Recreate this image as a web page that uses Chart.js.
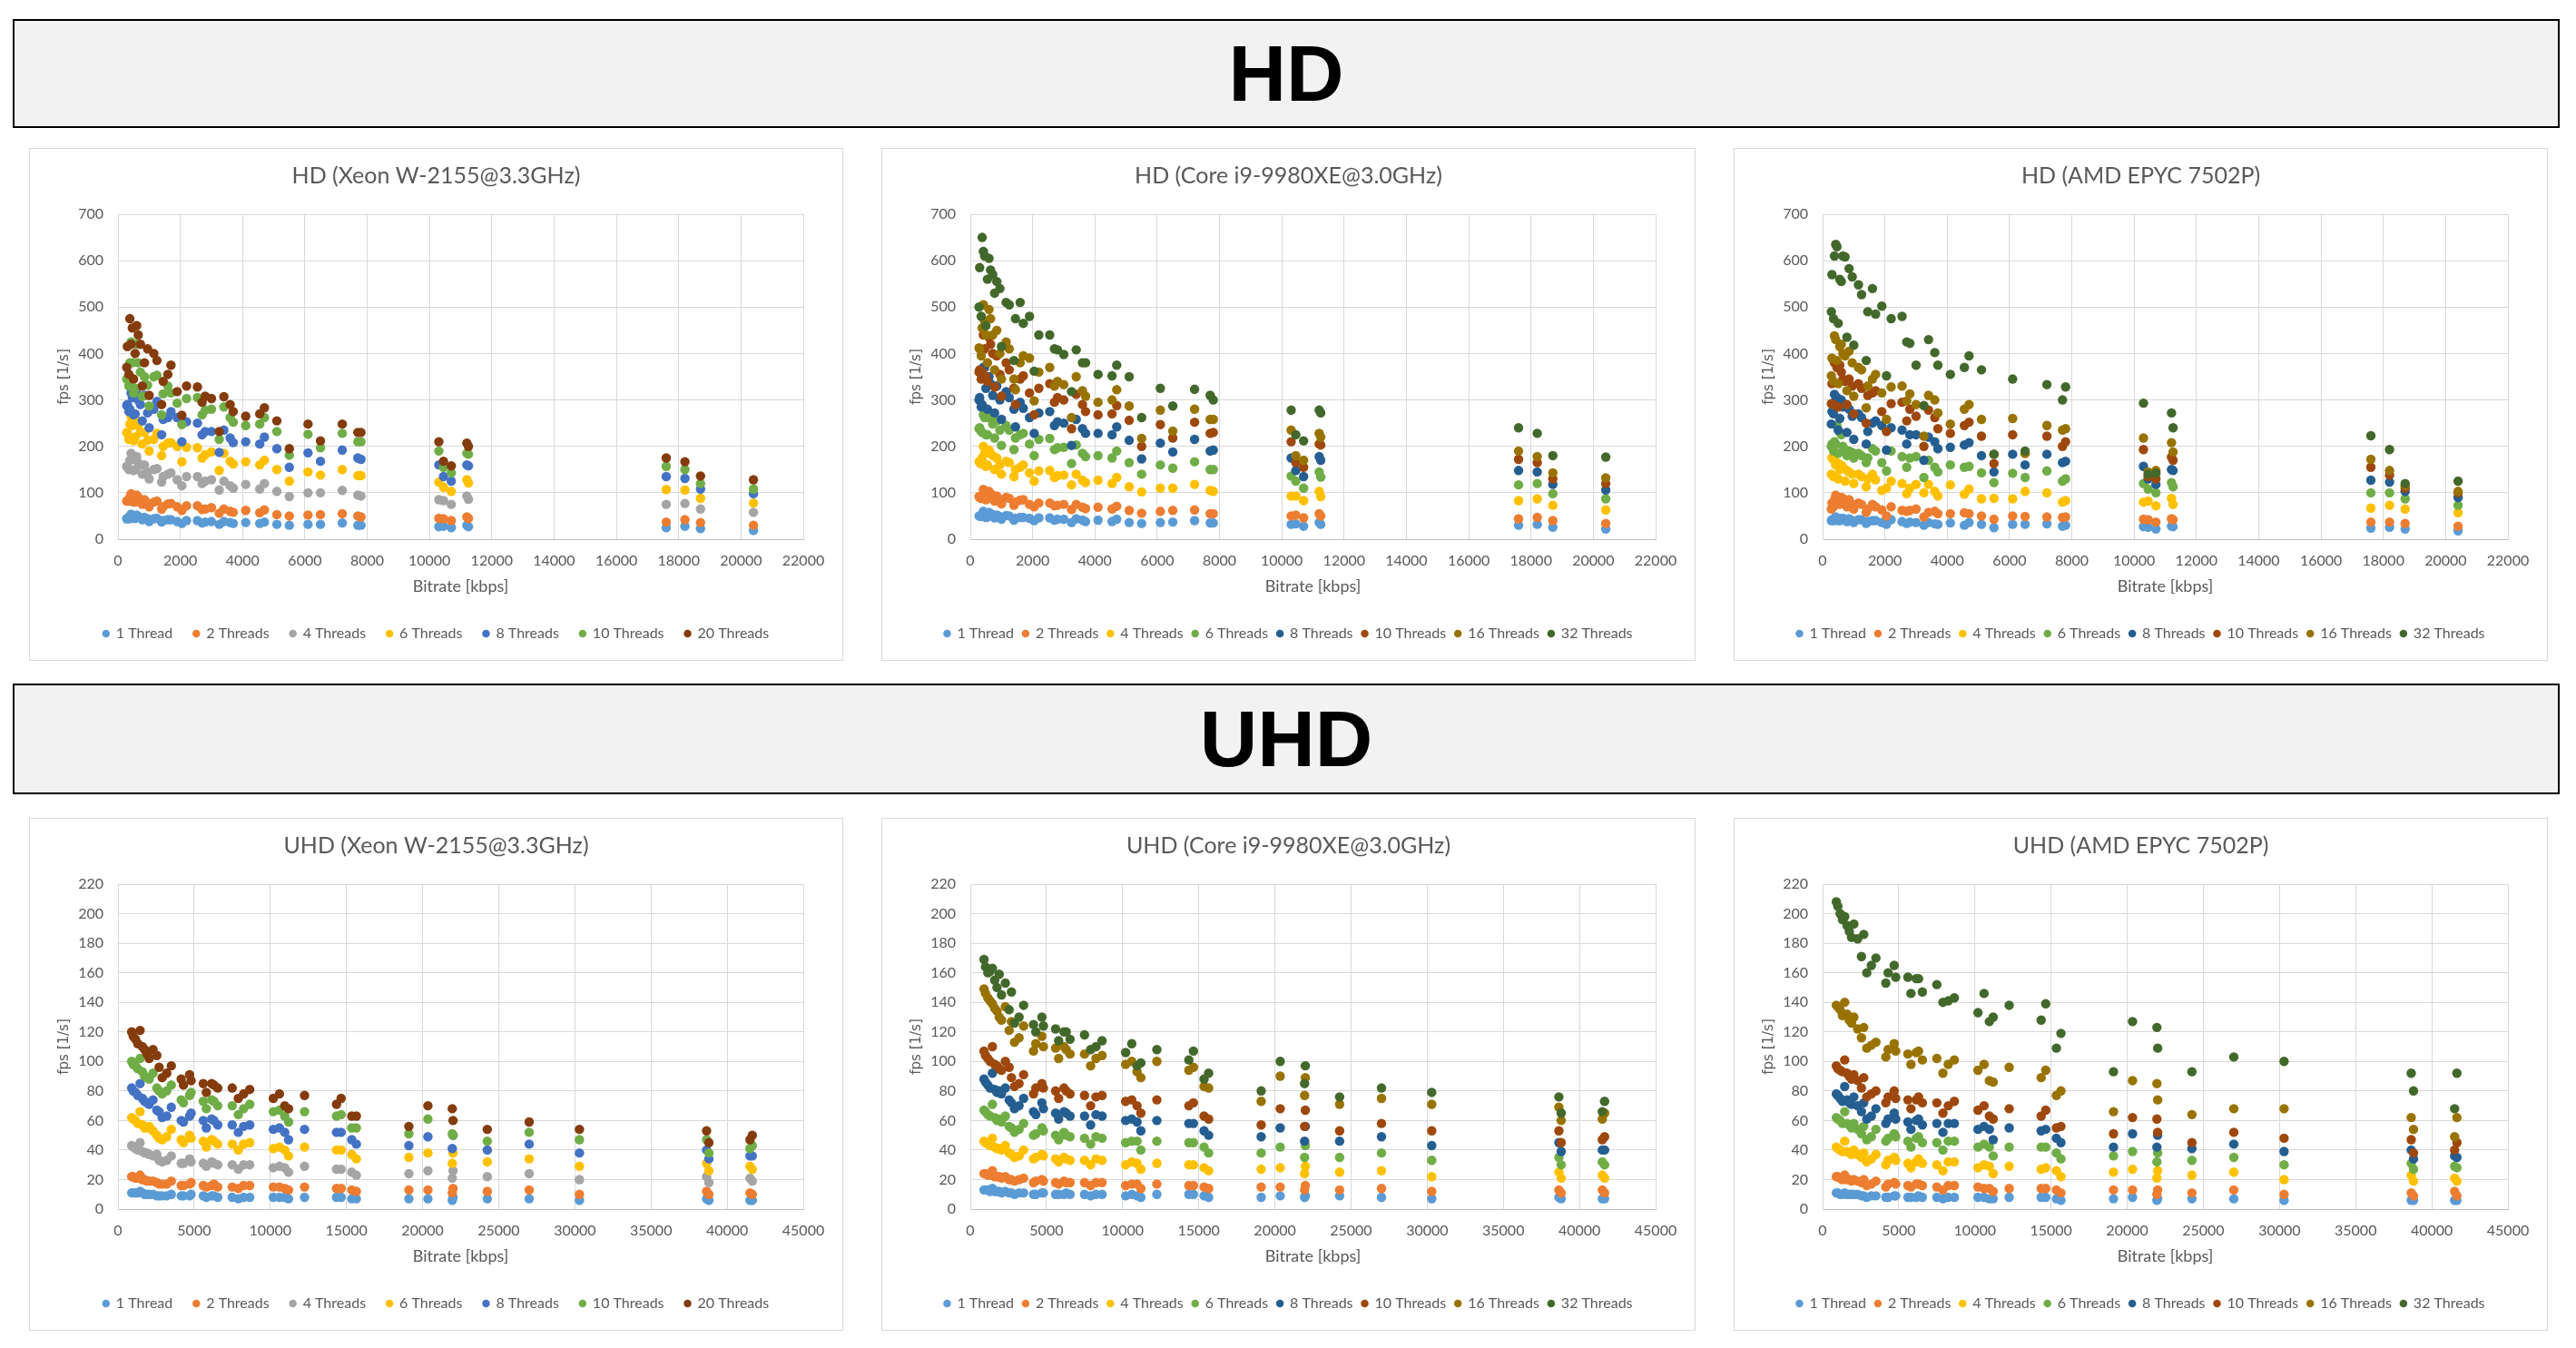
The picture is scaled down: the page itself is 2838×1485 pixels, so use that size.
<!DOCTYPE html>
<html>
<head>
<meta charset="utf-8">
<script src="https://cdn.jsdelivr.net/npm/chart.js@4.4.1/dist/chart.umd.min.js"></script>
<style>
  body { margin: 0; background: #fff; width: 2838px; height: 1485px; position: relative; overflow: hidden; }
  .banner { position: absolute; left: 14px; width: 2802px; border: 2px solid #000; background: #f2f2f2;
            display: flex; align-items: center; justify-content: center;
            font-family: "Liberation Sans Narrow", "Liberation Sans", sans-serif; font-weight: bold; font-size: 88px; color: #000; }
  .box { position: absolute; width: 895px; height: 563px; border: 1px solid #d9d9d9; background: #fff; }
  .box canvas { display: block; }
</style>
</head>
<body>
<div class="banner" style="top:21px;height:116px;">HD</div>
<div class="banner" style="top:753px;height:118px;">UHD</div>

<div class="box" style="left:32px;top:163px;"><canvas id="hdXeon" width="895" height="563"></canvas></div>
<div class="box" style="left:971px;top:163px;"><canvas id="hdCore" width="895" height="563"></canvas></div>
<div class="box" style="left:1910px;top:163px;"><canvas id="hdEpyc" width="895" height="563"></canvas></div>
<div class="box" style="left:32px;top:901px;"><canvas id="uhdXeon" width="895" height="563"></canvas></div>
<div class="box" style="left:971px;top:901px;"><canvas id="uhdCore" width="895" height="563"></canvas></div>
<div class="box" style="left:1910px;top:901px;"><canvas id="uhdEpyc" width="895" height="563"></canvas></div>

<script>
// bitrates [kbps] of the encodes, shared by every thread count
const HD_BITRATE = [280,300,350,380,420,460,500,550,600,650,720,780,850,950,1000,1150,1250,1400,1450,1600,1700,1900,2050,2200,2550,2700,2800,3000,3250,3400,3600,3700,4100,4550,4700,5100,5500,6100,6500,7200,7700,7800,10300,10450,10700,11200,11250,17600,18200,18700,20400];
const UHD_BITRATE = [900,1000,1150,1300,1450,1600,1750,1900,2050,2300,2550,2700,2900,3200,3500,4150,4300,4700,4800,5600,5800,6150,6300,6550,7500,7900,8250,8650,10200,10600,10950,11200,12250,14350,14650,15350,15650,19100,20350,21950,22000,24250,27000,30300,38650,38800,41500,41650];

const XEON_LABELS = ['1 Thread','2 Threads','4 Threads','6 Threads','8 Threads','10 Threads','20 Threads'];
const BIG_LABELS = ['1 Thread','2 Threads','4 Threads','6 Threads','8 Threads','10 Threads','16 Threads','32 Threads'];
const XEON_COLORS = ['#5B9BD5','#ED7D31','#A5A5A5','#FFC000','#4472C4','#70AD47','#843C0C'];
const BIG_COLORS = ['#5B9BD5','#ED7D31','#FFC000','#70AD47','#255E91','#9E480E','#997300','#43682B'];

const HD_X_MAX = 22000, HD_X_STEP = 2000, HD_Y_MAX = 700, HD_Y_STEP = 100;
const UHD_X_MAX = 45000, UHD_X_STEP = 5000, UHD_Y_MAX = 220, UHD_Y_STEP = 20;

// HD, Xeon W-2155 (fps)
const HD_XEON_1 = [44,45,44,50,54,50,45,45,52,49,47,42,47,44,38,44,45,37,40,42,42,38,34,40,40,35,37,38,32,38,36,34,36,34,37,32,30,32,32,35,30,30,27,28,25,30,27,25,28,23,19];
const HD_XEON_2 = [82,83,82,90,98,92,80,80,95,90,85,75,85,78,70,80,82,65,70,76,77,70,62,72,72,64,65,68,56,65,60,58,62,57,63,53,50,52,53,55,50,48,45,44,40,48,45,37,42,36,30];
const HD_XEON_4 = [157,155,150,170,185,172,148,150,178,165,160,140,160,145,130,150,152,123,135,140,143,128,115,135,135,120,125,128,106,125,115,110,118,108,120,103,92,100,100,105,95,93,85,83,75,93,86,75,77,65,58];
const HD_XEON_6 = [230,228,215,248,265,245,212,220,255,245,230,205,230,213,190,215,228,180,200,207,208,200,167,198,197,175,182,188,148,185,168,162,167,160,170,150,125,145,138,150,137,137,123,112,103,128,121,107,106,88,78];
const HD_XEON_8 = [288,290,275,280,315,305,268,270,315,300,290,255,310,272,240,280,297,225,258,262,275,262,210,253,250,225,232,232,187,235,218,208,210,205,220,195,155,186,168,192,175,172,160,135,125,160,158,135,131,108,98];
const HD_XEON_10 = [345,345,330,380,425,380,315,325,420,380,360,308,350,332,287,350,353,268,313,330,315,293,247,303,305,268,278,280,215,285,262,252,245,248,262,232,181,226,197,228,210,210,190,155,143,185,183,157,150,120,108];
const HD_XEON_20 = [370,415,355,475,420,455,345,400,460,440,420,330,380,410,310,400,385,290,340,355,375,318,267,330,328,295,308,303,232,307,290,275,265,270,283,255,195,248,212,248,230,230,210,168,158,207,200,175,167,136,128];

// HD, Core i9-9980XE (fps)
const HD_CORE_1 = [50,50,49,54,60,56,47,48,58,55,53,46,52,49,43,51,50,41,45,47,47,45,40,46,46,41,43,43,36,44,41,38,41,38,43,36,34,36,37,40,35,35,32,33,28,36,32,30,32,26,22];
const HD_CORE_2 = [92,90,88,95,107,100,85,88,103,98,95,82,93,86,76,90,88,73,80,84,85,75,70,78,78,72,73,75,64,75,69,66,69,65,71,62,56,60,62,63,55,55,50,52,46,55,50,44,47,40,34];
const HD_CORE_4 = [167,165,162,175,200,185,157,160,192,185,180,150,175,160,140,168,165,135,150,155,160,143,125,147,148,133,137,138,117,140,127,122,127,120,133,113,102,110,110,118,105,103,93,93,83,103,92,83,87,73,63];
const HD_CORE_6 = [238,240,232,230,268,262,225,225,265,260,248,218,255,235,202,245,235,193,218,225,228,205,180,215,217,193,197,198,163,203,185,178,180,175,190,165,140,160,153,167,150,150,136,125,110,145,134,117,120,98,87];
const HD_CORE_8 = [300,305,285,290,370,370,325,280,350,335,310,272,330,300,258,318,305,280,242,295,282,262,228,272,275,245,253,250,202,258,238,228,228,225,242,213,173,207,188,215,190,192,175,148,135,178,170,148,145,118,106];
const HD_CORE_10 = [360,365,345,360,440,410,350,340,435,420,400,328,395,355,308,380,365,325,290,345,352,315,268,325,335,295,305,300,238,312,290,275,268,270,288,256,200,247,218,252,228,230,210,165,155,205,203,172,165,130,120];
const HD_CORE_16 = [412,410,395,455,505,470,440,380,495,475,440,365,450,400,345,425,410,345,322,380,395,390,298,360,370,330,340,333,262,350,320,308,295,300,322,287,217,278,233,280,258,258,235,180,170,228,220,190,178,143,132];
const HD_CORE_32 = [500,585,480,650,620,610,460,560,605,580,570,530,555,540,415,510,505,385,475,510,465,480,362,440,440,410,408,398,318,408,380,380,355,352,375,350,262,325,287,323,310,300,278,225,212,278,272,240,228,180,177];

// HD, AMD EPYC 7502P (fps)
const HD_EPYC_1 = [40,42,40,44,48,46,40,40,45,45,42,38,44,40,36,42,42,34,38,40,40,36,32,42,38,34,37,36,30,36,33,32,35,30,36,32,25,32,32,33,28,30,27,26,22,28,27,24,26,22,18];
const HD_EPYC_2 = [65,78,70,85,95,92,80,75,90,88,80,70,85,75,65,78,75,58,65,75,70,63,50,70,62,60,62,65,48,58,60,55,55,57,55,50,43,50,49,48,47,48,43,42,37,44,42,37,37,34,28];
const HD_EPYC_4 = [140,175,135,170,160,165,130,150,160,155,125,148,145,140,120,140,135,113,130,140,128,105,110,125,120,98,110,118,100,118,103,93,117,97,108,87,88,87,103,100,80,83,80,82,72,88,75,67,73,65,57];
const HD_EPYC_6 = [200,205,190,210,205,245,185,230,225,200,192,180,190,187,175,185,180,165,175,195,190,165,147,190,178,155,175,178,133,170,155,145,160,155,157,143,122,142,133,147,125,130,120,108,100,122,113,100,100,87,73];
const HD_EPYC_8 = [248,275,270,312,300,305,235,260,300,285,290,230,280,265,215,270,262,205,232,250,255,245,192,240,235,205,225,225,170,220,210,195,198,203,208,180,145,183,160,183,165,168,157,130,118,150,148,127,123,103,90];
const HD_EPYC_10 = [292,335,290,380,378,370,285,375,360,345,340,290,345,330,270,335,325,250,310,315,320,275,232,292,295,255,280,265,200,278,262,238,228,245,252,222,163,225,185,222,200,210,193,135,130,177,170,155,138,110,100];
const HD_EPYC_16 = [352,390,340,438,430,385,335,415,420,400,395,320,405,380,308,370,365,283,330,345,355,315,258,328,330,298,313,290,222,310,300,272,248,280,290,258,183,260,185,245,235,238,218,145,148,208,188,172,148,115,103];
const HD_EPYC_32 = [490,570,475,610,635,630,465,560,555,610,608,435,583,565,418,548,527,385,490,540,485,502,352,475,480,425,422,375,288,430,402,375,355,370,395,365,183,345,190,333,300,328,293,140,142,272,240,223,193,120,125];

// UHD, Xeon W-2155 (fps)
const UHD_XEON_1 = [11,11,11,11,12,11,10,10,10,10,9,9,9,9,10,9,9,9,10,9,8,9,9,8,8,7,8,8,8,8,8,7,8,8,8,7,7,7,7,6,8,7,7,6,7,6,6,6];
const UHD_XEON_2 = [22,22,21,21,23,20,20,19,19,19,18,17,17,17,19,16,16,17,18,16,15,16,17,15,15,14,16,16,15,15,14,13,15,14,14,13,12,13,13,11,14,12,13,10,12,10,11,10];
const UHD_XEON_4 = [43,42,41,40,45,39,38,38,37,36,37,33,32,33,36,31,31,34,32,31,29,32,31,30,30,27,30,30,28,29,28,25,29,27,27,25,23,24,26,21,26,22,24,20,22,18,21,19];
const UHD_XEON_6 = [62,61,60,58,66,57,55,55,56,53,50,48,47,49,54,47,45,50,48,46,42,47,46,44,44,40,44,45,41,42,40,36,42,40,40,37,34,35,38,31,38,32,34,29,31,26,29,27];
const UHD_XEON_8 = [82,80,79,77,85,75,73,72,71,74,67,66,62,63,69,60,59,63,65,60,55,61,60,57,57,52,56,57,54,55,52,47,54,52,52,47,44,43,49,41,50,40,44,38,40,34,36,36];
const UHD_XEON_10 = [100,98,97,95,102,93,90,89,88,92,82,80,78,80,84,74,72,77,79,73,68,74,73,70,70,64,68,71,66,67,63,59,66,63,64,55,55,51,61,51,50,46,52,47,47,38,41,43];
const UHD_XEON_20 = [120,117,115,112,121,110,108,105,102,108,104,96,89,92,97,88,84,91,87,85,79,85,84,82,82,75,78,81,75,78,70,68,77,71,75,63,63,56,70,68,60,54,59,54,53,45,47,50];

// UHD, Core i9-9980XE (fps)
const UHD_CORE_1 = [13,13,13,12,14,12,12,12,11,12,11,11,10,11,11,10,10,11,11,10,10,10,11,10,10,9,10,10,9,10,9,8,10,10,10,9,8,8,9,8,9,9,8,7,8,7,7,7];
const UHD_CORE_2 = [24,24,23,23,26,22,22,22,21,22,20,20,19,20,21,18,19,20,19,18,17,19,18,18,18,16,18,18,16,17,17,14,17,16,16,15,14,15,15,13,16,13,14,12,13,11,13,11];
const UHD_CORE_4 = [46,45,44,43,48,42,41,41,40,43,38,37,35,36,40,34,35,37,36,34,32,35,34,33,33,30,34,33,30,32,31,27,31,30,30,28,26,27,28,24,29,25,26,22,25,21,23,21];
const UHD_CORE_6 = [67,66,64,63,71,62,60,61,59,63,56,55,52,54,58,50,51,55,53,50,47,52,50,49,48,44,49,48,45,46,46,40,46,45,45,42,38,38,42,35,43,35,38,33,35,30,32,30];
const UHD_CORE_8 = [88,86,84,82,92,81,79,80,78,82,74,72,68,70,75,66,64,72,68,65,61,66,65,63,63,57,64,63,60,61,59,53,60,58,58,53,50,49,55,46,56,46,49,43,45,39,40,40];
const UHD_CORE_10 = [107,104,102,100,110,98,97,95,94,100,96,89,83,85,91,78,82,85,82,80,75,82,80,78,77,70,76,77,73,74,70,65,74,70,72,63,61,57,68,56,67,53,58,53,53,45,47,49];
const UHD_CORE_16 = [149,146,143,141,139,136,134,130,128,137,121,127,113,116,124,107,112,117,110,109,102,110,108,105,105,97,102,104,98,100,93,89,100,94,96,83,82,73,90,77,89,71,75,71,69,60,61,65];
const UHD_CORE_32 = [169,164,160,161,163,155,150,159,145,153,135,147,126,130,138,125,120,130,124,122,114,120,120,115,118,108,110,114,106,112,97,99,108,101,107,88,92,80,100,85,97,76,82,79,76,65,66,73];

// UHD, AMD EPYC 7502P (fps)
const UHD_EPYC_1 = [11,11,10,10,11,10,10,10,10,10,9,9,8,9,9,8,8,9,9,8,8,8,9,8,8,7,8,8,8,8,7,7,8,8,8,7,6,7,8,6,7,7,7,6,6,6,6,6];
const UHD_EPYC_2 = [22,22,21,20,23,20,20,19,20,19,18,20,16,17,19,15,17,18,17,16,15,17,17,16,15,13,16,16,15,14,14,12,14,14,14,13,11,13,13,10,13,11,13,10,11,9,12,9];
const UHD_EPYC_4 = [42,41,40,39,46,39,38,37,40,37,35,38,32,34,37,30,33,35,33,31,28,32,34,31,30,26,32,32,28,30,29,24,29,27,28,26,22,25,27,21,26,23,25,20,23,19,21,19];
const UHD_EPYC_6 = [62,61,60,58,66,58,57,55,58,54,51,56,47,49,54,46,48,51,49,46,42,48,49,45,45,40,46,46,42,44,42,36,42,42,42,38,34,36,39,32,38,33,35,30,31,27,29,28];
const UHD_EPYC_8 = [78,77,75,73,83,74,72,71,76,70,66,72,61,63,68,58,61,65,61,59,54,60,61,57,58,52,58,58,54,56,54,47,55,53,54,48,45,42,51,42,50,41,44,39,40,34,36,35];
const UHD_EPYC_10 = [97,95,94,93,101,92,90,88,91,87,82,89,76,78,80,72,76,80,75,74,68,74,76,72,72,65,70,73,67,70,63,61,68,63,67,55,56,51,62,61,52,45,52,48,47,38,40,45];
const UHD_EPYC_16 = [138,137,135,131,140,132,128,126,130,122,116,123,109,111,113,103,108,112,107,105,98,106,107,101,102,92,98,101,94,98,87,86,96,89,94,77,80,66,87,85,74,64,68,68,62,54,49,62];
const UHD_EPYC_32 = [208,205,200,196,198,192,188,184,193,183,171,186,160,165,170,153,160,165,157,157,146,156,156,147,152,140,141,143,133,146,127,130,138,128,139,109,119,93,127,123,109,93,103,100,92,80,68,92];

const GREY_TEXT = '#595959';
const plain = v => String(v);

function scatterChart(id, title, labels, colors, xs, series, xMax, xStep, yMax, yStep) {
  const n = series.length;
  // wider spacing between legend entries when there are only 7 of them
  const legendPad = n > 7 ? 10 : 23;
  const datasets = series.map((ys, i) => ({
    label: labels[i],
    data: ys.map((y, j) => ({ x: xs[j], y: y })),
    backgroundColor: colors[i],
    borderColor: colors[i],
    borderWidth: 0,
    pointRadius: 5.2,
    pointHoverRadius: 5.2,
    pointStyle: 'circle',
    order: n - i   // later series painted on top, like the spreadsheet
  }));

  new Chart(document.getElementById(id), {
    type: 'scatter',
    data: { datasets },
    options: {
      responsive: false,
      animation: false,
      devicePixelRatio: 1,
      layout: { padding: { top: 0, right: 0, bottom: 11, left: 0 } },
      plugins: {
        title: {
          display: true, text: title, color: GREY_TEXT,
          font: { family: 'Lato', size: 25, weight: 'normal' },
          padding: { top: 15, bottom: 27 }
        },
        legend: {
          position: 'bottom',
          labels: {
            usePointStyle: true, boxWidth: 6, boxHeight: 6, padding: legendPad,
            color: GREY_TEXT, font: { family: 'Lato', size: 16 },
            sort: (a, b) => a.datasetIndex - b.datasetIndex
          }
        },
        tooltip: { enabled: false }
      },
      scales: {
        x: {
          type: 'linear', min: 0, max: xMax,
          ticks: { stepSize: xStep, color: GREY_TEXT, font: { family: 'Lato', size: 16 }, padding: 14, maxRotation: 0, autoSkip: false, callback: plain },
          grid: { color: '#d9d9d9', drawTicks: false, tickLength: 0 },
          border: { color: '#bfbfbf' },
          title: { display: true, text: 'Bitrate [kbps]', color: GREY_TEXT, font: { family: 'Lato', size: 18 }, padding: { top: 0, bottom: 10 + (23 - legendPad) } },
          afterFit: s => { s.height = 96 - legendPad; }
        },
        y: {
          min: 0, max: yMax,
          ticks: { stepSize: yStep, color: GREY_TEXT, font: { family: 'Lato', size: 16 }, padding: 16, callback: plain },
          grid: { color: '#d9d9d9', drawTicks: false, tickLength: 0 },
          border: { color: '#d9d9d9' },
          title: { display: true, text: 'fps [1/s]', color: GREY_TEXT, font: { family: 'DejaVu Sans', size: 15 }, padding: { top: 29, bottom: 0 } },
          afterFit: s => { s.width = 97; }
        },
        // empty right-hand margin, so title and legend stay centred on the whole box
        margin: {
          position: 'right', display: true,
          grid: { display: false }, ticks: { display: false }, border: { display: false },
          afterFit: s => { s.width = 43; }
        }
      }
    }
  });
}

scatterChart('hdXeon', 'HD (Xeon W-2155@3.3GHz)', XEON_LABELS, XEON_COLORS, HD_BITRATE,
  [HD_XEON_1, HD_XEON_2, HD_XEON_4, HD_XEON_6, HD_XEON_8, HD_XEON_10, HD_XEON_20], HD_X_MAX, HD_X_STEP, HD_Y_MAX, HD_Y_STEP);
scatterChart('hdCore', 'HD (Core i9-9980XE@3.0GHz)', BIG_LABELS, BIG_COLORS, HD_BITRATE,
  [HD_CORE_1, HD_CORE_2, HD_CORE_4, HD_CORE_6, HD_CORE_8, HD_CORE_10, HD_CORE_16, HD_CORE_32], HD_X_MAX, HD_X_STEP, HD_Y_MAX, HD_Y_STEP);
scatterChart('hdEpyc', 'HD (AMD EPYC 7502P)', BIG_LABELS, BIG_COLORS, HD_BITRATE,
  [HD_EPYC_1, HD_EPYC_2, HD_EPYC_4, HD_EPYC_6, HD_EPYC_8, HD_EPYC_10, HD_EPYC_16, HD_EPYC_32], HD_X_MAX, HD_X_STEP, HD_Y_MAX, HD_Y_STEP);
scatterChart('uhdXeon', 'UHD (Xeon W-2155@3.3GHz)', XEON_LABELS, XEON_COLORS, UHD_BITRATE,
  [UHD_XEON_1, UHD_XEON_2, UHD_XEON_4, UHD_XEON_6, UHD_XEON_8, UHD_XEON_10, UHD_XEON_20], UHD_X_MAX, UHD_X_STEP, UHD_Y_MAX, UHD_Y_STEP);
scatterChart('uhdCore', 'UHD (Core i9-9980XE@3.0GHz)', BIG_LABELS, BIG_COLORS, UHD_BITRATE,
  [UHD_CORE_1, UHD_CORE_2, UHD_CORE_4, UHD_CORE_6, UHD_CORE_8, UHD_CORE_10, UHD_CORE_16, UHD_CORE_32], UHD_X_MAX, UHD_X_STEP, UHD_Y_MAX, UHD_Y_STEP);
scatterChart('uhdEpyc', 'UHD (AMD EPYC 7502P)', BIG_LABELS, BIG_COLORS, UHD_BITRATE,
  [UHD_EPYC_1, UHD_EPYC_2, UHD_EPYC_4, UHD_EPYC_6, UHD_EPYC_8, UHD_EPYC_10, UHD_EPYC_16, UHD_EPYC_32], UHD_X_MAX, UHD_X_STEP, UHD_Y_MAX, UHD_Y_STEP);
</script>
</body>
</html>
